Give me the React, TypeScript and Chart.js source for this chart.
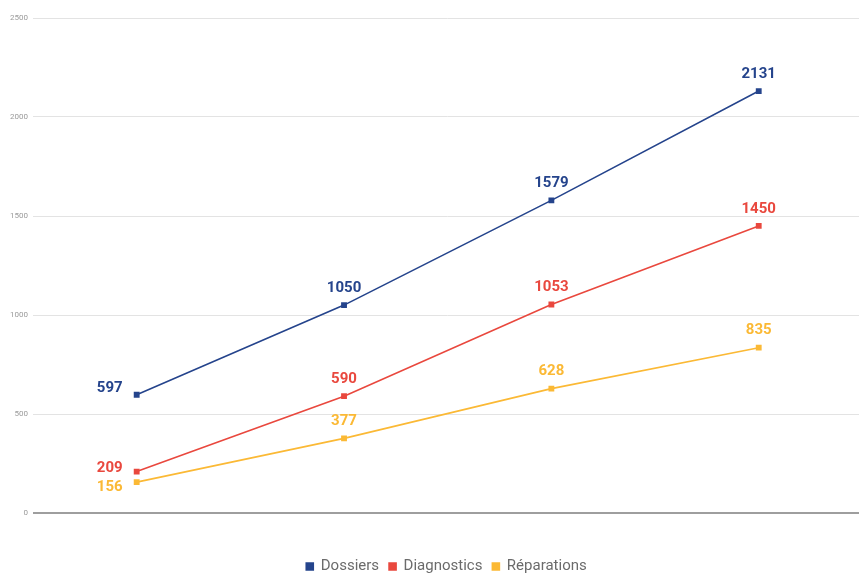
import React, { useEffect, useRef } from "react";
import { Chart, registerables } from "chart.js";

Chart.register(...registerables);

const categories = ["1", "2", "3", "4"];
const dossiers = [597, 1050, 1579, 2131];
const diagnostics = [209, 590, 1053, 1450];
const reparations = [156, 377, 628, 835];
const yTicks = [0, 500, 1000, 1500, 2000, 2500];

const BLUE = "#25448c";
const RED = "#e9483e";
const YELLOW = "#fbb935";

const labelPlugin = {
  id: "valueLabels",
  afterLayout(chart: any) {
    if (chart.legend) {
      chart.legend.left = 26;
    }
  },
  afterDatasetsDraw(chart: any) {
    const ctx = chart.ctx;
    ctx.save();
    ctx.font = "bold 15px Roboto";
    ctx.textBaseline = "middle";
    chart.data.datasets.forEach((ds: any, di: number) => {
      const meta = chart.getDatasetMeta(di);
      meta.data.forEach((pt: any, i: number) => {
        const v = ds.data[i];
        ctx.fillStyle = ds.borderColor;
        if (i === 0) {
          ctx.textAlign = "right";
          ctx.fillText(String(v), pt.x - 14, pt.y + (ds.firstDy || 0));
        } else {
          ctx.textAlign = "center";
          ctx.fillText(String(v), pt.x, pt.y - 17);
        }
      });
    });
    ctx.restore();
  },
};

export default function App() {
  const ref = useRef<HTMLCanvasElement>(null);
  useEffect(() => {
    if (!ref.current) return;
    const mk = (label: string, data: number[], color: string, firstDy: number) => ({
      label,
      data,
      borderColor: color,
      backgroundColor: color,
      borderWidth: 1.6,
      pointStyle: "rect",
      pointRadius: 3,
      pointHoverRadius: 3,
      tension: 0,
      firstDy,
    });
    const chart = new Chart(ref.current, {
      type: "line",
      data: {
        labels: categories,
        datasets: [
          mk("Dossiers", dossiers, BLUE, -7),
          mk("Diagnostics", diagnostics, RED, -3),
          mk("Réparations", reparations, YELLOW, 5),
        ] as any,
      },
      options: {
        animation: false,
        responsive: false,
        devicePixelRatio: 1,
        layout: { padding: { top: 18, left: 0, right: 0, bottom: 0 } },
        plugins: {
          legend: {
            position: "bottom",
            labels: {
              usePointStyle: true,
              pointStyle: "rect",
              boxWidth: 7,
              boxHeight: 7,
              padding: 10,
              color: "#6b6b6b",
              font: { family: "Roboto", size: 15 },
            },
          },
          tooltip: { enabled: false },
        },
        scales: {
          x: {
            offset: true,
            grid: { display: false },
            border: { display: false },
            ticks: { display: false },
            afterFit: (s: any) => {
              s.height = 36;
            },
          },
          y: {
            min: 0,
            max: 2500,
            afterBuildTicks: (s: any) => {
              s.ticks = yTicks.map((v) => ({ value: v }));
            },
            afterFit: (s: any) => {
              s.width = 33;
            },
            grid: {
              drawTicks: false,
              color: (c: any) => (c.tick && c.tick.value === 0 ? "#9e9e9e" : "#e3e3e3"),
              lineWidth: (c: any) => (c.tick && c.tick.value === 0 ? 2 : 1),
            },
            border: { display: false },
            ticks: {
              padding: 5,
              color: "#9a9a9a",
              font: { family: "Roboto", size: 8 },
              callback: (v: any) => String(v),
            },
          },
        },
      } as any,
      plugins: [labelPlugin],
    });
    return () => chart.destroy();
  }, []);
  return (
    <div style={{ position: "fixed", left: 0, top: 0, width: 859, height: 573, overflow: "hidden", background: "#fff" }}>
      <canvas ref={ref} width={867} height={584} style={{ display: "block", width: 867, height: 584 }} />
    </div>
  );
}
